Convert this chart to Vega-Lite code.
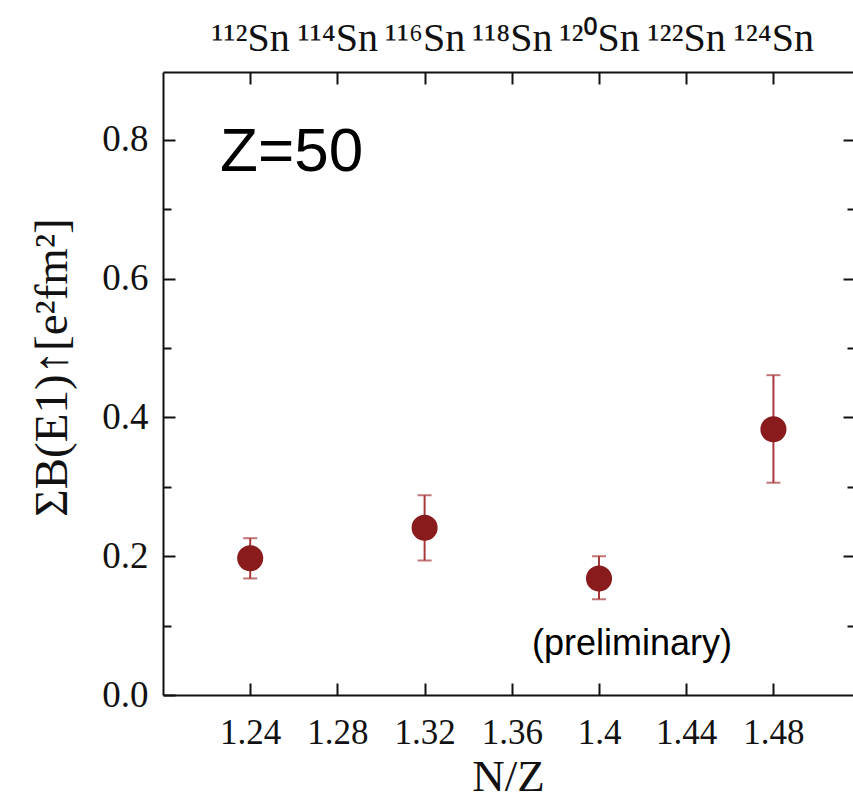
{
  "$schema": "https://vega.github.io/schema/vega-lite/v6.json",
  "width": 690,
  "height": 623,
  "autosize": {"type": "none"},
  "padding": {"left": 163, "top": 72, "right": 0, "bottom": 104},
  "background": "white",
  "config": {
    "view": {"stroke": null},
    "axis": {
      "labelFont": "Liberation Serif",
      "titleFont": "Liberation Serif",
      "labelColor": "#111",
      "titleColor": "#111",
      "domainColor": "#111",
      "tickColor": "#111",
      "domainWidth": 2,
      "tickWidth": 2,
      "grid": false,
      "titleFontWeight": "normal"
    }
  },
  "datasets": {
    "pts": [
      {"nz": 1.24, "val": 0.197, "lo": 0.168, "hi": 0.226},
      {"nz": 1.32, "val": 0.241, "lo": 0.194, "hi": 0.288},
      {"nz": 1.40, "val": 0.168, "lo": 0.138, "hi": 0.200},
      {"nz": 1.48, "val": 0.383, "lo": 0.306, "hi": 0.461}
    ],
    "zlab": [{"nz": 1.2262, "v": 0.755, "label": "Z=50"}],
    "prelab": [{"nz": 1.4151, "v": 0.058, "label": "(preliminary)"}]
  },
  "layer": [
    {
      "data": {"name": "pts"},
      "mark": {"type": "rule", "color": "#a8393b", "strokeWidth": 2},
      "encoding": {
        "x": {
          "field": "nz", "type": "quantitative",
          "scale": {"domain": [1.2, 1.5165], "nice": false, "zero": false},
          "axis": {
            "orient": "bottom",
            "values": [1.24, 1.28, 1.32, 1.36, 1.4, 1.44, 1.48],
            "format": ".2~f",
            "tickSize": -12,
            "labelFontSize": 35,
            "labelPadding": 32,
            "title": "N/Z",
            "titleFontSize": 45,
            "titleBaseline": "alphabetic",
            "titleY": 95,
            "titleX": 345
          }
        },
        "y": {
          "field": "lo", "type": "quantitative",
          "scale": {"domain": [0, 0.898], "nice": false, "zero": false},
          "axis": {
            "orient": "left",
            "values": [0, 0.1, 0.2, 0.3, 0.4, 0.5, 0.6, 0.7, 0.8],
            "labelExpr": "round(datum.value*10) % 2 == 0 ? format(datum.value, '.1f') : ''",
            "tickSize": {"condition": {"test": "round(datum.value*10) % 2 == 0", "value": -12}, "value": -8},
            "labelFontSize": 37,
            "labelPadding": 27,
            "title": "ΣB(E1)↑[e²fm²]",
            "titleFontSize": 47,
            "titleAngle": -90,
            "titleBaseline": "middle",
            "titleAlign": "center",
            "titleX": -111,
            "titleY": 295
          }
        },
        "y2": {"field": "hi"}
      }
    },
    {
      "data": {"name": "pts"},
      "mark": {"type": "tick", "orient": "horizontal", "color": "#a8393b", "size": 14, "thickness": 2},
      "encoding": {
        "x": {
          "field": "nz", "type": "quantitative",
          "scale": {"domain": [1.2, 1.5165], "nice": false, "zero": false},
          "axis": {
            "orient": "top",
            "values": [1.24, 1.28, 1.32, 1.36, 1.4, 1.44, 1.48],
            "labelExpr": "['¹¹²Sn','¹¹⁴Sn','¹¹⁶Sn','¹¹⁸Sn','¹²⁰Sn','¹²²Sn','¹²⁴Sn'][round((datum.value-1.24)/0.04)]",
            "labelFont": "Liberation Serif, Noto Sans",
            "tickSize": -12,
            "labelFontSize": 40,
            "labelPadding": 26,
            "title": null
          }
        },
        "y": {
          "field": "lo", "type": "quantitative",
          "scale": {"domain": [0, 0.898], "nice": false, "zero": false},
          "axis": {
            "orient": "right",
            "values": [0.1, 0.2, 0.3, 0.4, 0.5, 0.6, 0.7, 0.8],
            "labels": false,
            "domain": false,
            "tickSize": {"condition": {"test": "round(datum.value*10) % 2 == 0", "value": -10}, "value": -6},
            "title": null
          }
        }
      }
    },
    {
      "data": {"name": "pts"},
      "mark": {"type": "tick", "orient": "horizontal", "color": "#a8393b", "size": 14, "thickness": 2},
      "encoding": {
        "x": {"field": "nz", "type": "quantitative", "scale": {"domain": [1.2, 1.5165], "nice": false, "zero": false}, "axis": null},
        "y": {"field": "hi", "type": "quantitative", "scale": {"domain": [0, 0.898], "nice": false, "zero": false}, "axis": null}
      }
    },
    {
      "data": {"name": "pts"},
      "mark": {"type": "circle", "color": "#8a1b1d", "opacity": 1, "size": 680},
      "encoding": {
        "x": {"field": "nz", "type": "quantitative", "scale": {"domain": [1.2, 1.5165], "nice": false, "zero": false}, "axis": null},
        "y": {"field": "val", "type": "quantitative", "scale": {"domain": [0, 0.898], "nice": false, "zero": false}, "axis": null}
      }
    },
    {
      "data": {"name": "zlab"},
      "mark": {"type": "text", "font": "Liberation Sans", "fontSize": 62, "align": "left", "baseline": "alphabetic", "color": "#000"},
      "encoding": {
        "x": {"field": "nz", "type": "quantitative", "scale": {"domain": [1.2, 1.5165], "nice": false, "zero": false}, "axis": null},
        "y": {"field": "v", "type": "quantitative", "scale": {"domain": [0, 0.898], "nice": false, "zero": false}, "axis": null},
        "text": {"field": "label"}
      }
    },
    {
      "data": {"name": "prelab"},
      "mark": {"type": "text", "font": "Liberation Sans", "fontSize": 36, "align": "center", "baseline": "alphabetic", "color": "#000"},
      "encoding": {
        "x": {"field": "nz", "type": "quantitative", "scale": {"domain": [1.2, 1.5165], "nice": false, "zero": false}, "axis": null},
        "y": {"field": "v", "type": "quantitative", "scale": {"domain": [0, 0.898], "nice": false, "zero": false}, "axis": null},
        "text": {"field": "label"}
      }
    }
  ],
  "resolve": {"axis": {"x": "independent", "y": "independent"}}
}
